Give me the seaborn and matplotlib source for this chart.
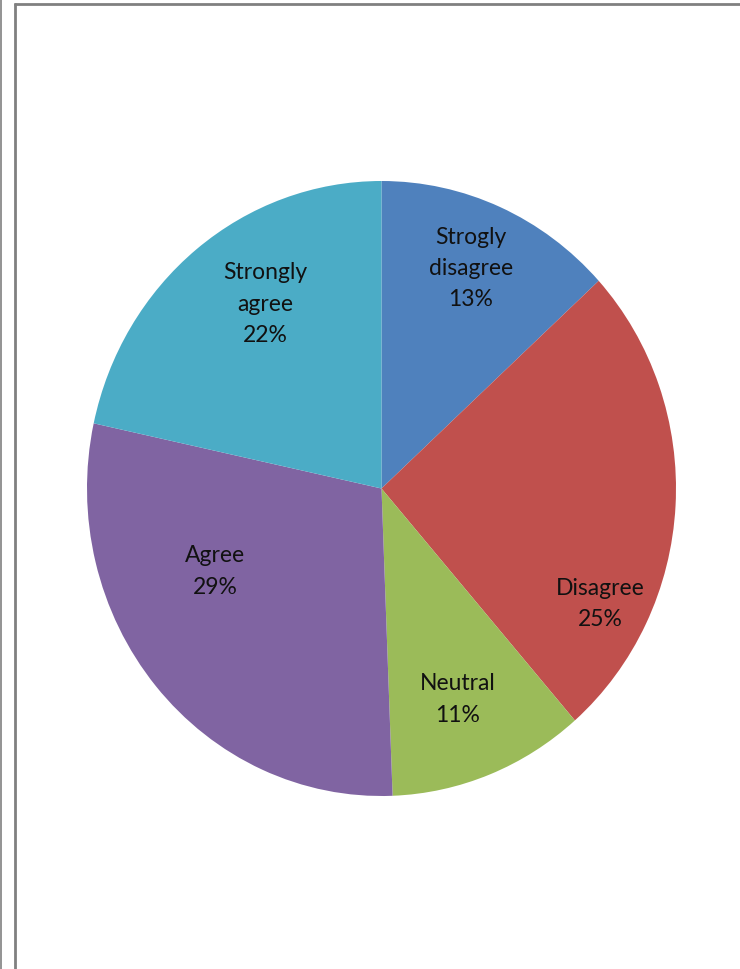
import matplotlib
matplotlib.use("Agg")
import matplotlib.pyplot as plt
from matplotlib.lines import Line2D
import numpy as np
import seaborn as sns

# ---- data ----
categories = ["Strogly\ndisagree", "Disagree", "Neutral", "Agree", "Strongly\nagree"]
shares = [13.2, 25.4, 10.8, 29.0, 21.6]          # underlying slice sizes
percent_labels = ["13%", "25%", "11%", "29%", "22%"]
colors = ["#4F81BD", "#C0504D", "#9BBB59", "#8064A2", "#4BACC6"]

# label layout (polar, in units of the pie radius): angle offset from wedge middle (deg, clockwise), radius
label_angle_offset = [-0.9, 23.4, 0.9, 14.7, 5.7]
label_radius = [0.78, 0.83, 0.73, 0.625, 0.72]

sns.set_theme(style="white")
plt.rcParams["font.family"] = ["Lato", "DejaVu Sans"]

W, H = 740, 970
fig = plt.figure(figsize=(W / 100, H / 100), dpi=100)
fig.patch.set_facecolor("white")

# pie box in pixels (slightly taller than wide, like the original)
left, right, top, bottom = 87, 676, 182, 797
ax = fig.add_axes([left / W, 1 - bottom / H, (right - left) / W, (bottom - top) / H])

wedges, _ = ax.pie(shares, colors=colors, startangle=90, counterclock=False,
                   wedgeprops=dict(linewidth=0))
ax.set_aspect("auto")
ax.set_xlim(-1, 1)
ax.set_ylim(-1, 1)
ax.axis("off")

total = sum(shares)
cum = 0.0
for lab, s, pl, off, r in zip(categories, shares, percent_labels, label_angle_offset, label_radius):
    mid = (cum + s / 2) / total * 360 + off  # clockwise from top
    cum += s
    th = np.deg2rad(mid)
    x, y = r * np.sin(th), r * np.cos(th)
    ax.text(x, y, f"{lab}\n{pl}", ha="center", va="center", fontsize=16.5,
            color="#111111", linespacing=1.6)

# frame lines like the source document
gray = "#808080"
def px_line(xs, ys, lw=2.0):
    fig.add_artist(Line2D([x / W for x in xs], [1 - y / H for y in ys],
                          transform=fig.transFigure, color=gray, linewidth=lw,
                          solid_capstyle="butt"))

px_line([0.7, 0.7], [0, H], lw=1.2)
px_line([14.5, 14.5], [3.5, H])
px_line([13.5, W], [4.5, 4.5])

fig.savefig("out.png", dpi=100, facecolor="white")
